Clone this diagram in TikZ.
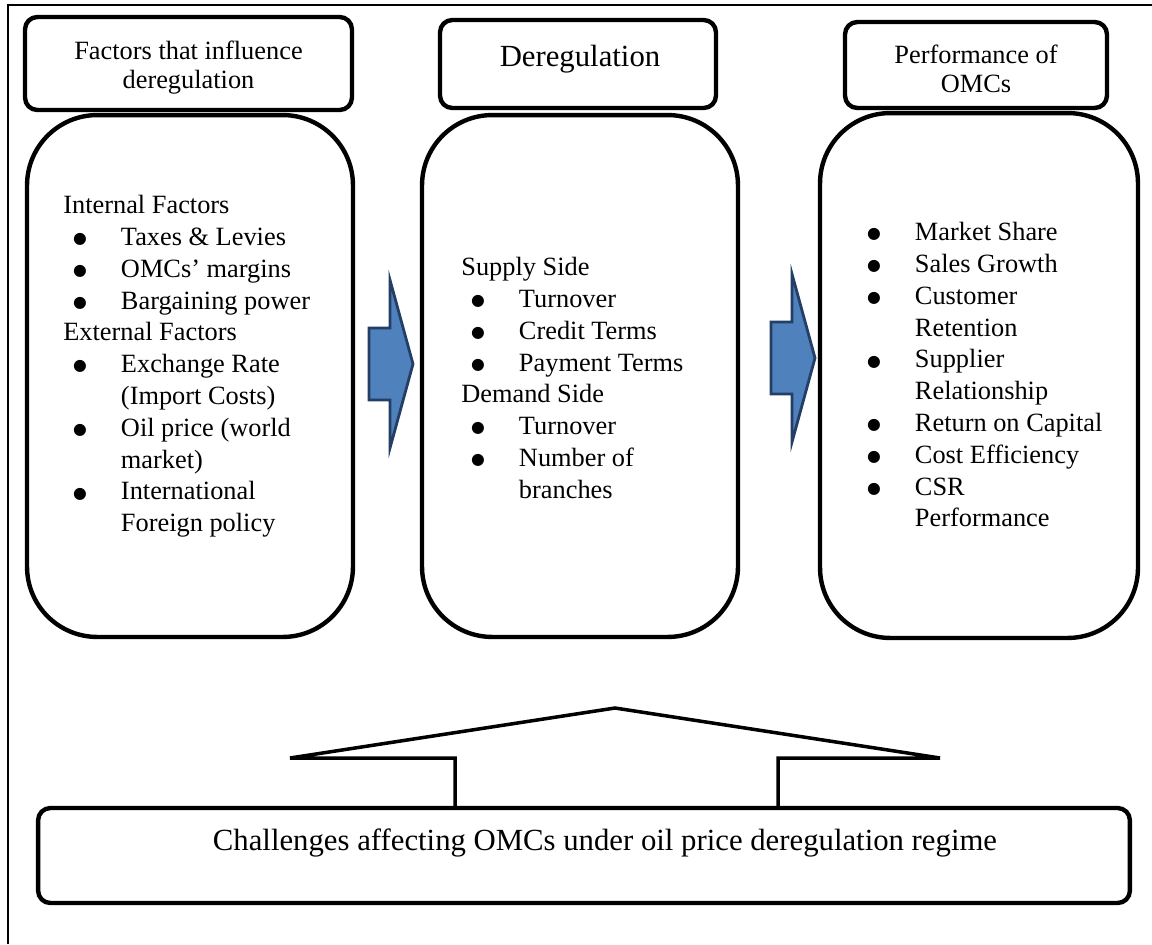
\documentclass[tikz,border=0pt]{standalone}
\usepackage{fontspec}
\setmainfont{Liberation Serif}
\newfontfamily\dotfont{DejaVu Sans}
\usepackage{tikz}
\definecolor{arrowfill}{HTML}{4F81BD}
\definecolor{arrowline}{HTML}{243F66}
\tikzset{
headbox/.style={draw, line width=2.5pt, rounded corners=7pt, inner sep=0pt},
titletext/.style={align=center, inner sep=0pt, font=\fontsize{15}{16.5}\selectfont},
bodybox/.style={draw, line width=2.5pt, rounded corners=40pt, inner sep=0pt},
listtext/.style={align=left, anchor=north west, inner sep=0pt, font=\fontsize{15}{18.1}\selectfont},
bluearrow/.style={fill=arrowfill, draw=arrowline, line width=1.6pt, line join=miter}
}
\newcommand{\bul}{\hspace*{5.5pt}\makebox[27.3pt][l]{\raisebox{1pt}{\dotfont\fontsize{9}{9}\selectfont ●}}}
\newcommand{\cnt}{\hspace*{32.8pt}}
\newcommand{\barrow}[2]{\draw[bluearrow] (#1,#2) ++(0,-36) -- ++(21,0) -- ++(0,-48) -- ++(23,84) -- ++(-23,84) -- ++(0,-48) -- ++(-21,0) -- cycle;}

\begin{document}
\begin{tikzpicture}[x=0.02cm, y=-0.02cm]
\useasboundingbox (0,0) rectangle (1152,944);
\draw[line width=1pt] (8,944) -- (8,5) -- (1152,5);

% the three columns
\node[headbox, minimum width=6.54cm, minimum height=1.86cm] (factors) at (188.5,63.5) {};
\node[titletext] (factorstitle) at (188.5,68) {Factors that influence\\deregulation};
\node[bodybox, minimum width=6.52cm, minimum height=10.44cm] (factorsbody) at (190,376) {};
\node[headbox, minimum width=5.52cm, minimum height=1.76cm] (dereg) at (578,64) {};
\node[titletext, font=\fontsize{17.5}{19}\selectfont] (deregtitle) at (580,59) {Deregulation};
\node[bodybox, minimum width=6.32cm, minimum height=10.44cm] (deregbody) at (580,376) {};
\node[headbox, minimum width=5.24cm, minimum height=1.72cm] (perf) at (976,65) {};
\node[titletext] (perftitle) at (976,68.5) {Performance of\\OMCs};
\node[bodybox, minimum width=6.36cm, minimum height=10.5cm] (perfbody) at (979,375.5) {};

\node[listtext] (factorslist) at (63,195) {Internal Factors\\
\bul Taxes \& Levies\\
\bul OMCs’ margins\\
\bul Bargaining power\\
External Factors\\
\bul Exchange Rate\\
\cnt (Import Costs)\\
\bul Oil price (world\\
\cnt market)\\
\bul International\\
\cnt Foreign policy};

\node[listtext] (dereglist) at (461,257) {Supply Side\\
\bul Turnover\\
\bul Credit Terms\\
\bul Payment Terms\\
Demand Side\\
\bul Turnover\\
\bul Number of\\
\cnt branches};

\node[listtext] (perflist) at (857,222) {\bul Market Share\\
\bul Sales Growth\\
\bul Customer\\
\cnt Retention\\
\bul Supplier\\
\cnt Relationship\\
\bul Return on Capital\\
\bul Cost Efficiency\\
\bul CSR\\
\cnt Performance};

\barrow{369}{364}
\barrow{771}{358}

% challenges box and the wide arrow above it
\node[draw, line width=2.5pt, rounded corners=7pt, minimum width=21.84cm, minimum height=1.9cm] (challenges) at (584,855.5) {};
\node[font=\fontsize{17.5}{19}\selectfont] (challengestext) at (605,843) {Challenges affecting OMCs under oil price deregulation regime};
\draw[line width=2pt, line join=miter] (455,808) |- (290,758) -- (615,708) -- (940,758) -| (778,808);
\end{tikzpicture}
\end{document}
